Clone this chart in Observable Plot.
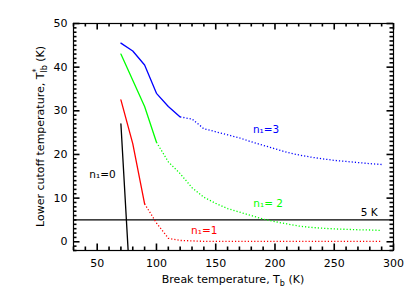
<!DOCTYPE html>
<html><head><meta charset="utf-8">
<script src="https://cdn.jsdelivr.net/npm/d3@7"></script>
<script src="https://cdn.jsdelivr.net/npm/@observablehq/plot@0.6"></script>
<style>body{margin:0;background:#fff} svg{display:block}</style>
</head><body><div id="chart"></div>
<script>
// Break temperature T_b (K)
const breakT = [70,80,90,100,110,120,130,140,150,160,170,180,190,200,210,220,230,240,250,260,270,280,290];
// Lower cutoff temperature for each n1
const n1_3 = [45.5,43.7,40.5,34.0,31.0,28.6,28.1,25.9,25.2,24.5,23.8,22.9,22.1,21.3,20.5,19.9,19.4,19.0,18.65,18.4,18.15,17.9,17.7];
const n1_2 = [43.0,37.0,31.0,22.8,18.3,15.6,12.4,10.2,8.8,7.6,6.8,6.0,5.2,4.6,4.1,3.6,3.3,3.1,2.95,2.85,2.75,2.7,2.6];
const n1_1 = [32.5,22.5,8.7,4.3,0.8,0.3,0.2,0.1,0.1,0.1,0.1,0.1,0.1,0.1,0.1,0.1,0.1,0.1,0.1,0.1,0.1,0.1,0.1];
const n1_0T = [70, 76.1];
const n1_0 = [27, -2];
// solid up to this T_b, dotted beyond
const solidEnd = {n3: 120, n2: 100, n1: 90};
const refLevel = [5];
const xTicks = [50,100,150,200,250,300];
const yTicks = [0,10,20,30,40,50];
const xMinor = d3.range(30, 301, 10).filter(v => v % 50 !== 0);
const yMinor = d3.range(-2, 51, 1).filter(v => v % 10 !== 0);

const W = 415, H = 297, mL = 73, mR = 22, mT = 23, mB = 47;
const xDomain = [30, 300], yDomain = [-2, 50];
const xS = Plot.scale({x: {domain: xDomain, range: [mL, W - mR]}});
const yS = Plot.scale({y: {domain: yDomain, range: [H - mB, mT]}});

const rows = vals => breakT.map((t, i) => ({t, v: vals[i]}));
const r3 = rows(n1_3), r2 = rows(n1_2), r1 = rows(n1_1);
const r0 = n1_0T.map((t, i) => ({t, v: n1_0[i]}));

const font = "DejaVu Sans, sans-serif";
const dash = "1.2,2";
const sw = 1.3;

function seriesMarks(data, end, color) {
  return [
    Plot.line(data.filter(d => d.t <= end), {x: "t", y: "v", stroke: color, strokeWidth: sw}),
    Plot.line(data.filter(d => d.t >= end), {x: "t", y: "v", stroke: color, strokeWidth: sw, strokeDasharray: dash, strokeLinecap: "butt"})
  ];
}

// inward tick marks as rules, lengths converted from pixels through the scales
function tickMarks() {
  const out = [];
  const tw = 1.6;
  for (const [vals, len] of [[xTicks, 6.5], [xMinor, 3.5]]) {
    out.push(Plot.ruleX(vals, {x: d => d, y1: yDomain[0], y2: yS.invert(H - mB - len), stroke: "#000", strokeWidth: tw}));
    out.push(Plot.ruleX(vals, {x: d => d, y1: yDomain[1], y2: yS.invert(mT + len), stroke: "#000", strokeWidth: tw}));
  }
  for (const [vals, len] of [[yTicks, 6.5], [yMinor, 3.5]]) {
    out.push(Plot.ruleY(vals, {y: d => d, x1: xDomain[0], x2: xS.invert(mL + len), stroke: "#000", strokeWidth: tw}));
    out.push(Plot.ruleY(vals, {y: d => d, x1: xDomain[1], x2: xS.invert(W - mR - len), stroke: "#000", strokeWidth: tw}));
  }
  return out;
}

const plot = Plot.plot({
  width: W, height: H,
  marginLeft: mL, marginRight: mR, marginTop: mT, marginBottom: mB,
  x: {domain: xDomain, axis: null},
  y: {domain: yDomain, axis: null},
  marks: [
    Plot.ruleY(refLevel, {stroke: "#000", strokeWidth: 1.3}),
    ...seriesMarks(r3, solidEnd.n3, "#0000ff"),
    ...seriesMarks(r2, solidEnd.n2, "#00ff00"),
    ...seriesMarks(r1, solidEnd.n1, "#ff0000"),
    Plot.line(r0, {x: "t", y: "v", stroke: "#000", strokeWidth: sw, clip: true}),
    // labels
    Plot.text(["n₁=0"], {x: 54.5, y: 15.4, text: d => d, fill: "#000", fontSize: 10.5, fontFamily: font}),
    Plot.text(["n₁=1"], {x: 140.3, y: 2.6, text: d => d, fill: "#ff0000", fontSize: 10.5, fontFamily: font}),
    Plot.text(["n₁= 2"], {x: 194.2, y: 8.8, text: d => d, fill: "#00ff00", fontSize: 10.5, fontFamily: font}),
    Plot.text(["n₁=3"], {x: 192.5, y: 25.7, text: d => d, fill: "#0000ff", fontSize: 10.5, fontFamily: font}),
    Plot.text(["5 K"], {x: 286.7, y: 6.6, text: d => d, fill: "#000", fontSize: 10.5, textAnchor: "end", fontFamily: font}),
    // tick labels
    Plot.axisX(xTicks, {anchor: "bottom", tickSize: 0, tickPadding: 9, label: null, fontSize: 11, fontFamily: font, fill: "#000"}),
    Plot.axisY(yTicks, {anchor: "left", tickSize: 0, tickPadding: 6, label: null, fontSize: 11, fontFamily: font, fill: "#000"}),
    ...tickMarks(),
    Plot.frame({stroke: "#000", strokeWidth: 1.2})
  ]
});

const svg = d3.select(plot).attr("font-family", font);
const xs = plot.scale("x"), ys = plot.scale("y");
const yB = ys.range[0], yT = ys.range[1];
const xL = xs.range[0], xR = xs.range[1];

const xl = svg.append("text")
  .attr("x", (xL + xR) / 2).attr("y", 283)
  .attr("text-anchor", "middle")
  .attr("font-family", font).attr("font-size", 11).attr("fill", "#000");
xl.append("tspan").text("Break temperature, T");
xl.append("tspan").attr("font-size", 8).attr("dy", 3).text("b");
xl.append("tspan").attr("dy", -3).text(" (K)");

const yl = svg.append("text")
  .attr("transform", `translate(44,${(yB + yT) / 2}) rotate(-90)`)
  .attr("text-anchor", "middle")
  .attr("font-family", font).attr("font-size", 11).attr("fill", "#000");
yl.append("tspan").text("Lower cutoff temperature, T");
yl.append("tspan").attr("font-size", 8).attr("dy", -5).text("*");
yl.append("tspan").attr("font-size", 8).attr("dx", -4).attr("dy", 8).text("lb");
yl.append("tspan").attr("dy", -3).text(" (K)");

document.getElementById("chart").append(plot);
</script></body></html>
